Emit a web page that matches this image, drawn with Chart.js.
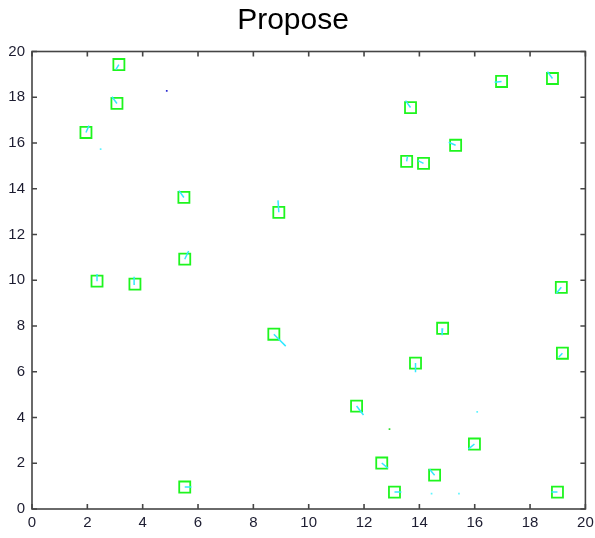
<!DOCTYPE html>
<html>
<head>
<meta charset="utf-8">
<script src="https://cdn.jsdelivr.net/npm/chart.js@4/dist/chart.umd.min.js"></script>
<style>
  html, body { margin: 0; padding: 0; background: #fff; }
  #wrap { width: 595px; height: 538px; }
</style>
</head>
<body>
<div id="wrap"><canvas id="myChart" width="595" height="538"></canvas></div>
<script>
// Marker positions (green squares)
const xs = [3.14, 3.07, 1.95, 5.49, 8.92, 5.52, 2.35, 3.72, 8.74, 5.52, 13.68, 13.54, 14.15, 15.31, 16.97, 18.81, 14.84, 13.86, 19.13, 19.17, 11.73, 12.64, 13.10, 14.55, 15.99, 18.99];
const ys = [19.43, 17.73, 16.46, 13.62, 12.97, 10.92, 9.96, 9.83, 7.64, 0.96, 17.55, 15.20, 15.11, 15.90, 18.69, 18.82, 7.90, 6.38, 9.69, 6.81, 4.50, 2.01, 0.74, 1.48, 2.84, 0.74];
// Heading vectors drawn from each marker (cyan strokes)
const dxs = [-0.11, -0.18, 0.11, -0.18, -0.03, 0.14, 0, -0.03, 0.43, 0.24, -0.18, 0.03, -0.2, -0.25, -0.25, -0.18, -0.02, 0, -0.18, -0.13, 0.25, 0.22, 0.25, -0.18, -0.22, -0.22];
const dys = [-0.22, 0.29, 0.3, 0.3, 0.52, 0.36, 0.31, 0.32, -0.52, 0, 0.3, 0.22, 0.12, 0.13, -0.03, 0.3, -0.3, -0.4, -0.26, -0.17, -0.39, -0.22, 0, 0.26, -0.22, 0];
// Stray single points
const dotX = [4.87, 2.48, 12.92, 16.09, 14.44, 15.43, 20];
const dotY = [18.28, 15.73, 3.49, 4.25, 0.67, 0.67, 20];
const dotColors = ['#2b2bd0', '#5ff5ff', '#2fe02f', '#5ff5ff', '#5ff5ff', '#5ff5ff', '#ffe600'];
// Axis ticks
const tickValues = [0, 2, 4, 6, 8, 10, 12, 14, 16, 18, 20];

const squares = xs.map((x, i) => ({ x: x, y: ys[i] }));
const headings = [];
xs.forEach((x, i) => {
  headings.push({ x: x, y: ys[i] });
  headings.push({ x: x + dxs[i], y: ys[i] + dys[i] });
  headings.push({ x: x, y: null });
});
const dots = dotX.map((x, i) => ({ x: x, y: dotY[i] }));

// Box frame with inward ticks on all four sides
const framePlugin = {
  id: 'frame',
  afterDraw(chart) {
    const ctx = chart.ctx;
    const a = chart.chartArea;
    const sx = chart.scales.x, sy = chart.scales.y;
    ctx.save();
    ctx.strokeStyle = '#454545';
    ctx.lineWidth = 1.6;
    ctx.strokeRect(a.left, a.top, a.right - a.left, a.bottom - a.top);
    ctx.beginPath();
    tickValues.forEach(v => {
      const px = sx.getPixelForValue(v);
      ctx.moveTo(px, a.bottom); ctx.lineTo(px, a.bottom - 5);
      ctx.moveTo(px, a.top); ctx.lineTo(px, a.top + 5);
      const py = sy.getPixelForValue(v);
      ctx.moveTo(a.left, py); ctx.lineTo(a.left + 5, py);
      ctx.moveTo(a.right, py); ctx.lineTo(a.right - 5, py);
    });
    ctx.stroke();
    ctx.restore();
  }
};

const ctx = document.getElementById('myChart').getContext('2d');
new Chart(ctx, {
  type: 'scatter',
  data: {
    datasets: [
      {
        type: 'line',
        data: headings,
        borderColor: '#33e8ff',
        borderWidth: 1.5,
        pointRadius: 0,
        spanGaps: false,
        fill: false,
      },
      {
        data: dots,
        pointStyle: 'rect',
        pointRadius: 1.2,
        pointBorderWidth: 0,
        pointBackgroundColor: dotColors,
      },
      {
        data: squares,
        pointStyle: 'rect',
        pointRadius: 7.8,
        pointBorderWidth: 1.8,
        pointBorderColor: '#1ef51e',
        pointBackgroundColor: 'rgba(0,0,0,0)',
      },
    ],
  },
  options: {
    responsive: false,
    animation: false,
    layout: { padding: { top: 0, right: 9, left: 0, bottom: 0 } },
    scales: {
      x: {
        type: 'linear',
        min: 0,
        max: 20,
        grid: { display: false, drawTicks: false },
        border: { display: false },
        afterFit: (scale) => {
          scale.height = 29;
          scale.paddingRight = 0;
          scale.paddingLeft = 0;
        },
        ticks: {
          stepSize: 2,
          padding: 5,
          color: '#1c1c30',
          font: { family: 'Liberation Sans', size: 15 },
        },
      },
      y: {
        type: 'linear',
        min: 0,
        max: 20,
        grid: { display: false, drawTicks: false },
        border: { display: false },
        afterFit: (scale) => {
          scale.width = 32;
          scale.paddingTop = 0;
          scale.paddingBottom = 0;
        },
        ticks: {
          stepSize: 2,
          padding: 7,
          color: '#1c1c30',
          font: { family: 'Liberation Sans', size: 15 },
        },
      },
    },
    plugins: {
      legend: { display: false },
      tooltip: { enabled: false },
      title: {
        display: true,
        text: 'Propose',
        color: '#000',
        font: { family: 'Liberation Sans', size: 30, weight: 'normal' },
        padding: { top: 3, bottom: 12.5 },
      },
    },
  },
  plugins: [framePlugin],
});
</script>
</body>
</html>
